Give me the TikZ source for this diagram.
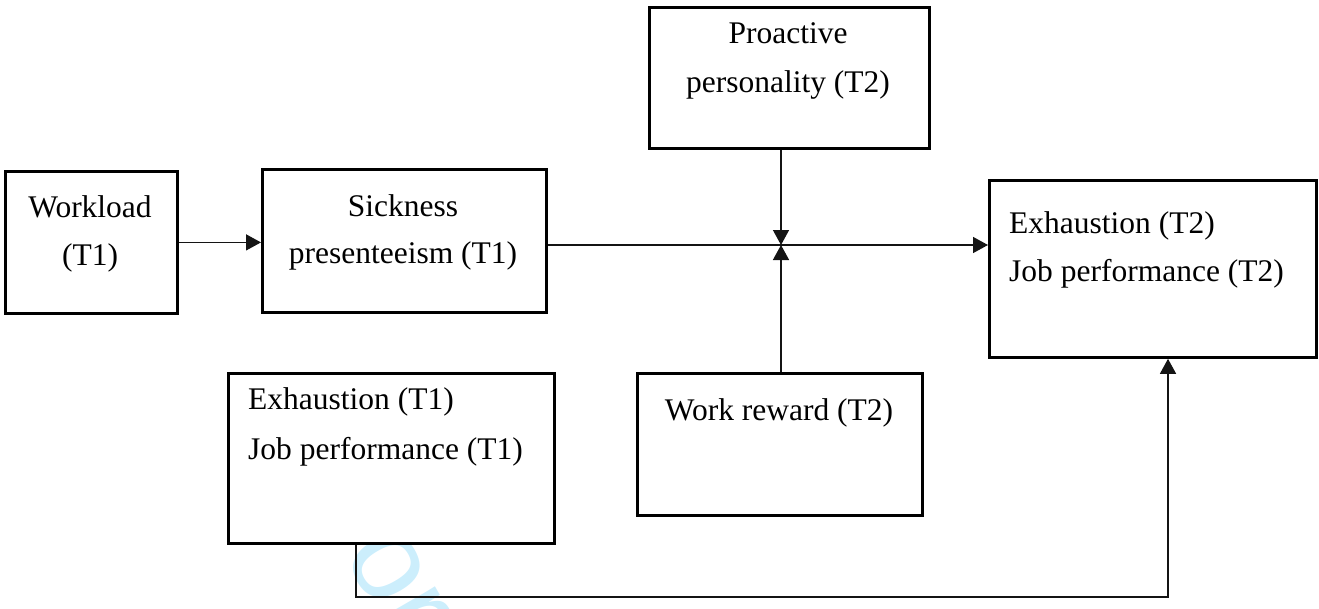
\documentclass[tikz,border=0pt]{standalone}
\usepackage{fontspec}
\setmainfont{Liberation Serif}
\newfontfamily\wmfont{Liberation Sans}
\usetikzlibrary{arrows.meta}
\definecolor{wmcyan}{RGB}{204,238,252}
\begin{document}
\begin{tikzpicture}[x=1pt,y=-1pt,
  box/.style={draw=black,line width=2.8pt,fill=white,inner sep=0pt,anchor=north west},
  txt/.style={inner sep=0pt,anchor=base,font=\fontsize{31.5}{38}\selectfont},
  txtl/.style={txt,anchor=base west},
  conn/.style={line width=1.4pt,draw=black!92},
  arr/.style={conn,-{Triangle[length=15pt,width=16pt]}}]
\useasboundingbox (0,0) rectangle (1319,608);
\begin{scope}
\clip (0,0) rectangle (1319,608);
\node[text=wmcyan,font=\wmfont\fontsize{120}{120}\selectfont,rotate=-60,anchor=base west,inner sep=0pt] (wm) at (306,490) {For};
\end{scope}
% boxes
\node[box,minimum width=172pt,minimum height=142pt] (wl) at (4,170) {};
\node[box,minimum width=284pt,minimum height=143pt] (sick) at (261,168) {};
\node[box,minimum width=280pt,minimum height=141pt] (pro) at (648,6) {};
\node[box,minimum width=327pt,minimum height=177pt] (exh2) at (988,179) {};
\node[box,minimum width=326pt,minimum height=170pt] (exh1) at (227,372) {};
\node[box,minimum width=285pt,minimum height=142pt] (wr) at (636,372) {};
% texts
\node[txt] (wlA) at (90,217) {Workload};
\node[txt] (wlB) at (90,265) {(T1)};
\node[txt] (skA) at (403,216) {Sickness};
\node[txt] (skB) at (403,263) {presenteeism (T1)};
\node[txt] (prA) at (788,43) {Proactive};
\node[txt] (prB) at (788,92) {personality (T2)};
\node[txt] (wrA) at (779,420) {Work reward (T2)};
\node[txtl] (e1A) at (248,409) {Exhaustion (T1)};
\node[txtl] (e1B) at (248,459) {Job performance (T1)};
\node[txtl] (e2A) at (1009,233) {Exhaustion (T2)};
\node[txtl] (e2B) at (1009,281) {Job performance (T2)};
% connectors
\coordinate (c) at (781,245);
\coordinate (b1) at (356,597);
\coordinate (b2) at (1168,597);
\draw[arr] (wl.east) -- (wl.east -| sick.west);
\draw[arr] (sick.east |- c) -- (exh2.west |- c);
\draw[arr] (pro.south -| c) -- (c);
\draw[arr] (wr.north -| c) -- (c);
\draw[arr] (exh1.south -| b1) -- (b1) -- (b2) -- (exh2.south -| b2);
\end{tikzpicture}
\end{document}
